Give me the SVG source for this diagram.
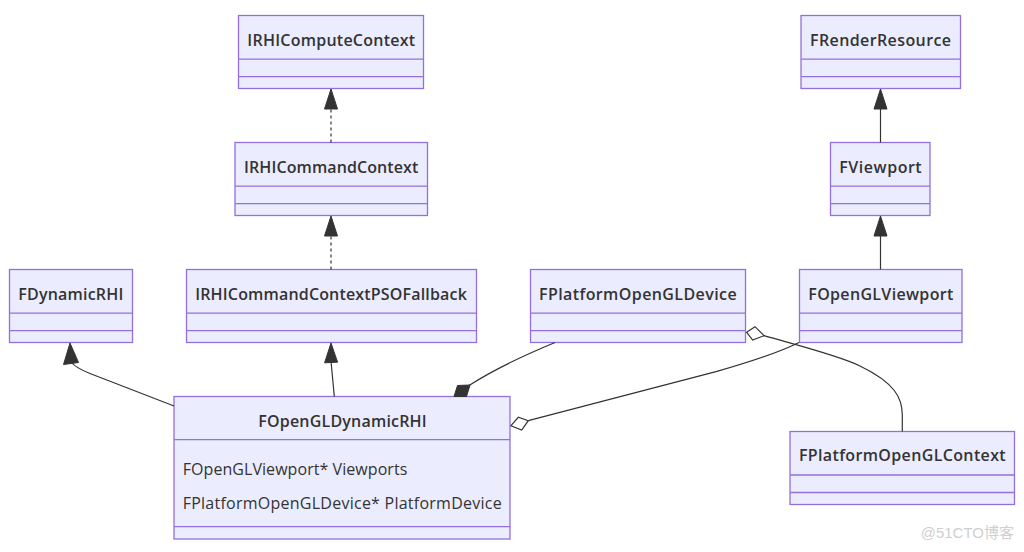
<svg xmlns="http://www.w3.org/2000/svg" width="1024" height="552" viewBox="0 0 1024 552">
<style>
.box{fill:#ECECFF;stroke:#9370DB;stroke-width:1.3}
.div{stroke:#9370DB;stroke-width:1.3}
.t{font-family:"Open Sans","Noto Sans","DejaVu Sans",sans-serif;font-size:16px;fill:#333;font-weight:600;text-anchor:middle}
.a{font-family:"Open Sans","Noto Sans","DejaVu Sans",sans-serif;font-size:16px;fill:#333}
.e{fill:none;stroke:#333;stroke-width:1.2}
.d{stroke-dasharray:3,3}
.ah{fill:#333;stroke:#333;stroke-width:1}
.hd{fill:#fff;stroke:#333;stroke-width:1.2}
</style>
<rect width="1024" height="552" fill="#fff"/>
<g id="nodes">
<g id="IRHIComputeContext">
<rect class="box" x="238.5" y="15.5" width="185" height="73"/>
<line class="div" x1="238.5" y1="59.2" x2="423.5" y2="59.2"/>
<line class="div" x1="238.5" y1="76.7" x2="423.5" y2="76.7"/>
<text class="t" x="331.2" y="46" textLength="167.7">IRHIComputeContext</text>
</g>
<g id="IRHICommandContext">
<rect class="box" x="235" y="142.5" width="192.5" height="73"/>
<line class="div" x1="235" y1="186.2" x2="427.5" y2="186.2"/>
<line class="div" x1="235" y1="203.7" x2="427.5" y2="203.7"/>
<text class="t" x="331.2" y="173" textLength="174.3">IRHICommandContext</text>
</g>
<g id="IRHICommandContextPSOFallback">
<rect class="box" x="186.5" y="269.5" width="290" height="73"/>
<line class="div" x1="186.5" y1="313.2" x2="476.5" y2="313.2"/>
<line class="div" x1="186.5" y1="330.7" x2="476.5" y2="330.7"/>
<text class="t" x="331" y="300" textLength="271.7">IRHICommandContextPSOFallback</text>
</g>
<g id="FDynamicRHI">
<rect class="box" x="9.5" y="269.5" width="123" height="73"/>
<line class="div" x1="9.5" y1="313.2" x2="132.5" y2="313.2"/>
<line class="div" x1="9.5" y1="330.7" x2="132.5" y2="330.7"/>
<text class="t" x="70.8" y="300" textLength="105">FDynamicRHI</text>
</g>
<g id="FPlatformOpenGLDevice">
<rect class="box" x="530.5" y="269.5" width="215" height="73"/>
<line class="div" x1="530.5" y1="313.2" x2="745.5" y2="313.2"/>
<line class="div" x1="530.5" y1="330.7" x2="745.5" y2="330.7"/>
<text class="t" x="637.8" y="300" textLength="197.7">FPlatformOpenGLDevice</text>
</g>
<g id="FOpenGLViewport">
<rect class="box" x="799.5" y="269.5" width="162.5" height="73"/>
<line class="div" x1="799.5" y1="313.2" x2="962" y2="313.2"/>
<line class="div" x1="799.5" y1="330.7" x2="962" y2="330.7"/>
<text class="t" x="880.8" y="300" textLength="145">FOpenGLViewport</text>
</g>
<g id="FRenderResource">
<rect class="box" x="801" y="15.5" width="159.5" height="73"/>
<line class="div" x1="801" y1="59.2" x2="960.5" y2="59.2"/>
<line class="div" x1="801" y1="76.7" x2="960.5" y2="76.7"/>
<text class="t" x="880.5" y="46" textLength="141">FRenderResource</text>
</g>
<g id="FViewport">
<rect class="box" x="830.5" y="142.5" width="99.5" height="73"/>
<line class="div" x1="830.5" y1="186.2" x2="930" y2="186.2"/>
<line class="div" x1="830.5" y1="203.7" x2="930" y2="203.7"/>
<text class="t" x="880.5" y="173" textLength="82.4">FViewport</text>
</g>
<g id="FPlatformOpenGLContext">
<rect class="box" x="790" y="431.5" width="224.5" height="73"/>
<line class="div" x1="790" y1="475" x2="1014.5" y2="475"/>
<line class="div" x1="790" y1="492.5" x2="1014.5" y2="492.5"/>
<text class="t" x="902.3" y="461" textLength="206.7">FPlatformOpenGLContext</text>
</g>
<g id="FOpenGLDynamicRHI">
<rect class="box" x="174" y="396.5" width="336" height="142.5"/>
<line class="div" x1="174" y1="439.7" x2="510" y2="439.7"/>
<line class="div" x1="174" y1="526.7" x2="510" y2="526.7"/>
<text class="t" x="342.5" y="426.5" textLength="168.4">FOpenGLDynamicRHI</text>
<text class="a" x="182.7" y="475" textLength="224.6">FOpenGLViewport* Viewports</text>
<text class="a" x="182.7" y="509" textLength="319">FPlatformOpenGLDevice* PlatformDevice</text>
</g>
</g>
<g id="edges">
<path class="e d" d="M331,142.5 L331,108"/>
<polygon class="ah" points="331,89 324.5,109 337.5,109"/>
<path class="e d" d="M331,269.5 L331,235"/>
<polygon class="ah" points="331,216 324.5,236 337.5,236"/>
<path class="e" d="M880.5,142.5 L880.5,108"/>
<polygon class="ah" points="880.5,89 874,109 887,109"/>
<path class="e" d="M880.5,269.5 L880.5,235"/>
<polygon class="ah" points="880.5,216 874,236 887,236"/>
<path class="e" d="M71,362 C75,367 80,369.5 90,373.5 L174,406"/>
<polygon class="ah" points="70,343 63.5,364.5 78.5,362.5"/>
<path class="e" d="M331,361 L334.3,396.5"/>
<polygon class="ah" points="331,343 324.6,362.8 337.6,362.2"/>
<path class="e" d="M555,342.5 C520,357 490,372 469,385.5"/>
<polygon class="ah" points="454,396.5 457.5,385.5 470,385 466.5,396.5"/>
<path class="e" d="M799,342.5 C780,352 750,362 716,371.7 L528.3,420.7"/>
<polygon class="hd" points="511,425.7 518.3,417.3 528.3,420.7 521.7,430"/>
<path class="e" d="M764,335.7 C800,346 840,356 860,366 C895,383 902.3,398 902.3,415 L902.3,431.5"/>
<polygon class="hd" points="746.7,332.3 755,326.7 764,335.7 752.7,340"/>
</g>
<text x="1014" y="538" text-anchor="end" font-family="'Liberation Sans','Noto Sans CJK SC',sans-serif" font-size="15" fill="#cfcfcf">@51CTO博客</text>
</svg>
